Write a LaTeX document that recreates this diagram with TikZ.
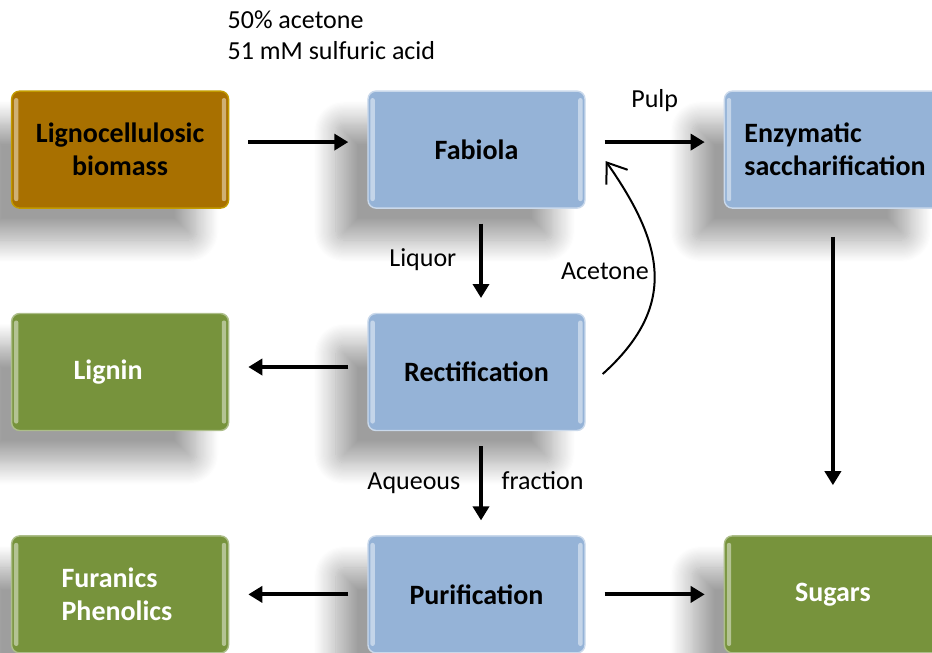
\documentclass[tikz,border=0pt]{standalone}
\usepackage{fontspec}
\setmainfont{Carlito}
\usetikzlibrary{matrix,arrows.meta,shadows.blur}

\definecolor{wood}{RGB}{168,112,0}
\definecolor{proc}{RGB}{149,179,215}
\definecolor{prod}{RGB}{119,147,60}

\tikzset{
  box/.style={rectangle, rounded corners=4pt, minimum width=108.5pt, minimum height=58.5pt,
    font=\fontsize{14}{16.5}\selectfont\bfseries, align=center, line width=0.7pt, anchor=center,
    blur shadow={shadow xshift=-16pt, shadow yshift=-16pt, shadow blur radius=11pt,
      shadow blur steps=20, shadow opacity=38},
    path picture={
      \fill[white, opacity=.45, rounded corners=1pt]
        ([xshift=1.2pt,yshift=-3.5pt]path picture bounding box.north west) rectangle
        ([xshift=3.4pt,yshift=3.5pt]path picture bounding box.south west)
        ([xshift=-1.2pt,yshift=-3.5pt]path picture bounding box.north east) rectangle
        ([xshift=-3.4pt,yshift=3.5pt]path picture bounding box.south east);
    }},
  feed/.style={box, fill=wood, draw=wood!70!yellow},
  unit/.style={box, fill=proc, draw=proc!50!white},
  product/.style={box, fill=prod, draw=prod!60!white, text=white},
  vert/.style={shorten >=7.4pt, shorten <=7.4pt},
  tag/.style={text height=9pt, text depth=3pt},
  recycle/.style={line width=1pt, shorten >=0pt, shorten <=0pt, -{Straight Barb[length=9pt,width=13pt]}},
}

\begin{document}
\begin{tikzpicture}[x=0.5pt, y=-0.5pt, line width=2pt, shorten >=9.5pt, shorten <=9.5pt, ->,
    >={Triangle[length=7pt,width=8pt]}, font=\fontsize{13}{15.5}\selectfont]
  \useasboundingbox (0,0) rectangle (932,653);
  \node (cond) [anchor=west, align=left] at (219,35) {50\% acetone\\51 mM sulfuric acid};
  \matrix (m) [row sep=52pt, column sep=69pt, inner sep=0pt] at (476.5,372) {
    \node[feed] (ligno) {Lignocellulosic\\biomass}; &
    \node[unit] (fabiola) {Fabiola}; &
    \node[unit, align=left, inner xsep=10pt, text width=88.5pt] (enzyme) {Enzymatic\\saccharification}; \\
    \node[product, align=left, inner xsep=31pt, text width=46.5pt] (lignin) {Lignin}; &
    \node[unit] (rect) {Rectification}; & \\
    \node[product, align=left, inner xsep=25pt, text width=58.5pt] (furan) {Furanics\\Phenolics}; &
    \node[unit] (purif) {Purification}; &
    \node[product] (sugars) {Sugars}; \\
  };
  \path
    ([yshift=3.75pt]ligno.east) edge ([yshift=3.75pt]fabiola.west)
    ([yshift=3.75pt]fabiola.east) edge node[tag, above=10pt]{Pulp} ([yshift=3.75pt]enzyme.west)
    ([xshift=2.25pt]fabiola.south) edge[vert] node[tag, left=8pt]{Liquor} ([xshift=2.25pt]rect.north)
    ([yshift=2.5pt]rect.west) edge ([yshift=2.5pt]lignin.east)
    ([xshift=2.25pt]rect.south) edge[vert] node[tag, left=6pt]{Aqueous} node[tag, right=6pt]{fraction} ([xshift=2.25pt]purif.north)
    (purif.west) edge (furan.east)
    (purif.east) edge (sugars.west)
    (enzyme.south) edge[shorten <=14pt, shorten >=25pt] (sugars.north)
  ;
  % acetone goes back to the reactor
  \draw[recycle] ([xshift=8.5pt,yshift=-1pt]rect.east) to[out=42, in=-55, looseness=1.22]
    node[tag, left=-1pt]{Acetone} ([xshift=10pt,yshift=-5.75pt]fabiola.east);
\end{tikzpicture}
\end{document}
